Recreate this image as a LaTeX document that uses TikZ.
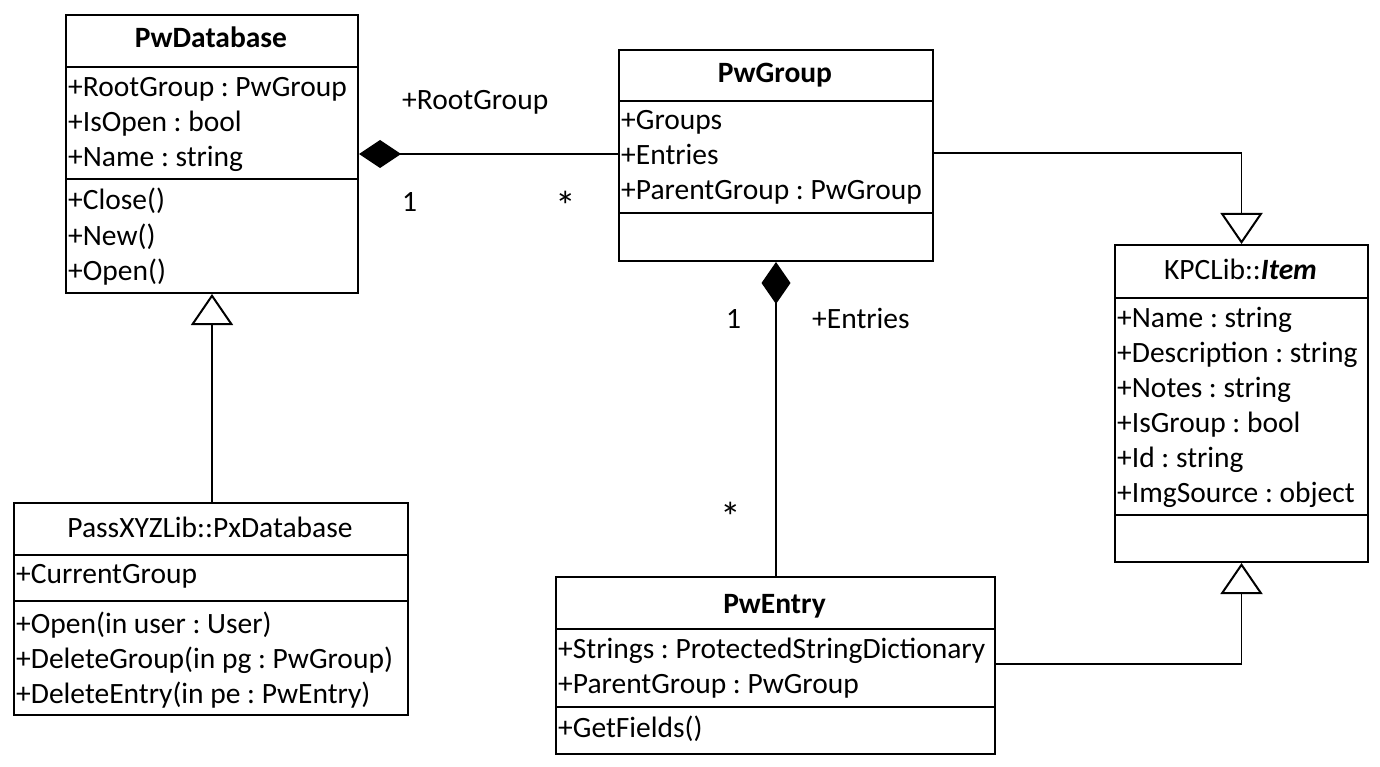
\documentclass[tikz,border=0pt]{standalone}
\usepackage{fontspec}
\setmainfont{Carlito}
\frenchspacing
\usetikzlibrary{arrows.meta}
\tikzset{
  every picture/.style={x=1pt,y=-1pt},
  classbox/.style={draw,line width=2pt,rectangle,inner sep=0pt,anchor=north west},
  sep/.style={line width=2pt},
  txt/.style={inner sep=0pt,anchor=base west,font=\fontsize{29.5}{34}\selectfont},
  hdr/.style={inner sep=0pt,anchor=base,font=\fontsize{29.5}{34}\selectfont},
  lbl/.style={inner sep=0pt,anchor=base west,font=\fontsize{29.5}{34}\selectfont},
  star/.style={inner sep=0pt,font=\fontsize{29.5}{34}\selectfont,scale=1.4},
  conn/.style={line width=1.6pt},
  compo/.style={conn,{Diamond[length=42pt,width=28pt,fill=black]}-},
  gener/.style={conn,-{Triangle[open,length=31pt,width=42pt,fill=white,line width=2pt]}},
}
\begin{document}
\begin{tikzpicture}
\useasboundingbox (0,0) rectangle (1380,767);
% PwDatabase
\node[classbox,minimum width=292pt,minimum height=278pt] (db) at (65,14) {};
\draw[sep] (db.west |- 0,67) -- (db.east |- 0,67);
\draw[sep] (db.west |- 0,179) -- (db.east |- 0,179);
\node[hdr] (dbh) at (211,48) {\textbf{PwDatabase}};
\node[txt] (db1) at (68,97) {+RootGroup : PwGroup};
\node[txt] (db2) at (68,132) {+IsOpen : bool};
\node[txt] (db3) at (68,167) {+Name : string};
\node[txt] (db4) at (68,210) {+Close()};
\node[txt] (db5) at (68,245) {+New()};
\node[txt] (db6) at (68,280) {+Open()};
% PwGroup
\node[classbox,minimum width=314pt,minimum height=211pt] (grp) at (618,49) {};
\draw[sep] (grp.west |- 0,101) -- (grp.east |- 0,101);
\draw[sep] (grp.west |- 0,213) -- (grp.east |- 0,213);
\node[hdr] (grph) at (775,83) {\textbf{PwGroup}};
\node[txt] (grp1) at (621,130) {+Groups};
\node[txt] (grp2) at (621,165) {+Entries};
\node[txt] (grp3) at (621,200) {+ParentGroup : PwGroup};
% KPCLib::Item
\node[classbox,minimum width=253pt,minimum height=317pt] (item) at (1114,244) {};
\draw[sep] (item.west |- 0,298) -- (item.east |- 0,298);
\draw[sep] (item.west |- 0,515) -- (item.east |- 0,515);
\node[hdr] (itemh) at (1240.5,279) {KPCLib::\textbf{\textit{Item}}};
\node[txt] (item1) at (1117,327) {+Name : string};
\node[txt] (item2) at (1117,362) {+Description : string};
\node[txt] (item3) at (1117,397) {+Notes : string};
\node[txt] (item4) at (1117,432) {+IsGroup : bool};
\node[txt] (item5) at (1117,467) {+Id : string};
\node[txt] (item6) at (1117,502) {+ImgSource : object};
% PassXYZLib::PxDatabase
\node[classbox,minimum width=394pt,minimum height=212pt] (px) at (13,502) {};
\draw[sep] (px.west |- 0,555) -- (px.east |- 0,555);
\draw[sep] (px.west |- 0,601) -- (px.east |- 0,601);
\node[hdr] (pxh) at (210,537) {PassXYZLib::PxDatabase};
\node[txt] (px1) at (16,583) {+CurrentGroup};
\node[txt] (px2) at (16,633) {+Open(in user : User)};
\node[txt] (px3) at (16,668) {+DeleteGroup(in pg : PwGroup)};
\node[txt] (px4) at (16,703) {+DeleteEntry(in pe : PwEntry)};
% PwEntry
\node[classbox,minimum width=439pt,minimum height=177pt] (ent) at (555,576) {};
\draw[sep] (ent.west |- 0,629) -- (ent.east |- 0,629);
\draw[sep] (ent.west |- 0,707) -- (ent.east |- 0,707);
\node[hdr] (enth) at (774.5,613) {\textbf{PwEntry}};
\node[txt] (ent1) at (558,658) {+Strings : ProtectedStringDictionary};
\node[txt] (ent2) at (558,693) {+ParentGroup : PwGroup};
\node[txt] (ent3) at (558,737) {+GetFields()};
% connectors
\draw[compo] (db.east |- 0,154) -- (grp.west |- 0,154);
\draw[compo,{Diamond[length=42pt,width=29pt,fill=black]}-] (grp.south) -- (grp.south |- ent.north);
\draw[gener] (grp.east |- 0,153) -| (item.north);
\draw[gener] (px.north -| db.south) -- (db.south);
\draw[gener] (ent.east |- 0,664) -| (item.south);
% labels
\node[lbl] (l1) at (402,110) {+RootGroup};
\node[lbl] (l2) at (402,212) {1};
\node[star] (l3) at (566,206) {*};
\node[lbl] (l4) at (726,328) {1};
\node[lbl] (l5) at (812,328) {+Entries};
\node[star] (l6) at (731,517) {*};
\end{tikzpicture}
\end{document}
